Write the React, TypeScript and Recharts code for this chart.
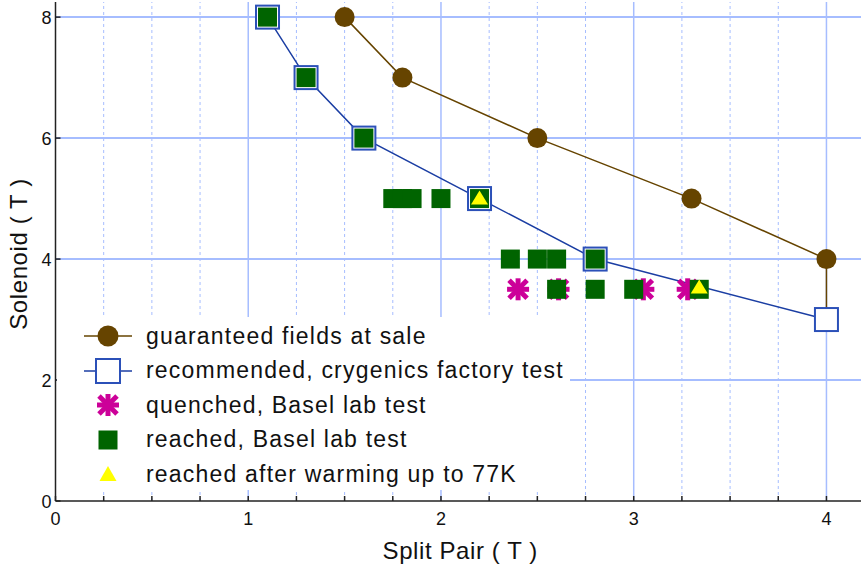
import React from "react";
import { ComposedChart, Scatter, XAxis, YAxis, ReferenceLine, Label } from "recharts";

// series values
const guaranteedX = [1.5, 1.8, 2.5, 3.3, 4.0, 4.0];
const guaranteedY = [8, 7, 6, 5, 4, 3];
const recommendedX = [1.1, 1.3, 1.6, 2.2, 2.8, 4.0];
const recommendedY = [8, 7, 6, 5, 4, 3];
const quenchedX = [2.4, 2.61, 3.05, 3.28];
const quenchedY = [3.5, 3.5, 3.5, 3.5];
const reachedX = [1.1, 1.3, 1.6, 1.75, 1.8, 1.85, 2.0, 2.2, 2.36, 2.5, 2.6, 2.8, 2.6, 2.8, 3.0, 3.34];
const reachedY = [8, 7, 6, 5, 5, 5, 5, 5, 4, 4, 4, 4, 3.5, 3.5, 3.5, 3.5];
const warmedX = [2.2, 3.34];
const warmedY = [5, 3.53];

const seriesNames = [
  "guaranteed fields at sale",
  "recommended, crygenics factory test",
  "quenched, Basel lab test",
  "reached, Basel lab test",
  "reached after warming up to 77K",
];

const xTicks = [0, 0.25, 0.5, 0.75, 1, 1.25, 1.5, 1.75, 2, 2.25, 2.5, 2.75, 3, 3.25, 3.5, 3.75, 4];
const yTicks = [0, 2, 4, 6, 8];

const toPoints = (xs: number[], ys: number[]) => xs.map((x, i) => ({ x, y: ys[i] }));

const BROWN = "#664400";
const BLUE_LINE = "#1b3ea3";
const BLUE_BOX = "#2b50b8";
const MAGENTA = "#cc0099";
const GREEN = "#006400";
const GRID = "#a6bdff";
const FONT = "'Liberation Sans', Arial, Helvetica, sans-serif";

const Dot = (p: any) => <circle cx={p.cx} cy={p.cy} r={10} fill={BROWN} />;
const Box = (p: any) => (
  <rect x={p.cx - 11.5} y={p.cy - 11.5} width={23} height={23} fill="#fff" stroke={BLUE_BOX} strokeWidth={2} />
);
const Star = (p: any) => {
  const { cx, cy } = p;
  return (
    <g stroke={MAGENTA} strokeWidth={5}>
      <line x1={cx - 11} y1={cy} x2={cx + 11} y2={cy} />
      <line x1={cx} y1={cy - 11} x2={cx} y2={cy + 11} />
      <line x1={cx - 9} y1={cy - 9} x2={cx + 9} y2={cy + 9} />
      <line x1={cx - 9} y1={cy + 9} x2={cx + 9} y2={cy - 9} />
    </g>
  );
};
const Block = (p: any) => <rect x={p.cx - 9.5} y={p.cy - 9.5} width={19} height={19} fill={GREEN} />;
const Tri = (p: any) => (
  <polygon
    points={`${p.cx},${p.cy - 8} ${p.cx - 8.5},${p.cy + 6} ${p.cx + 8.5},${p.cy + 6}`}
    fill="#ffff00"
  />
);

const BottomTick = (p: any) => {
  const v = p.payload.value;
  const isInt = Math.abs(v - Math.round(v)) < 1e-6;
  return (
    <g>
      <line x1={p.x} y1={p.y} x2={p.x} y2={p.y - 5} stroke="#222" strokeWidth={1.5} />
      {isInt && (
        <text x={p.x} y={p.y + 24} textAnchor="middle" fontSize={18} fontFamily={FONT} fill="#111">
          {v}
        </text>
      )}
    </g>
  );
};
const TopTick = (p: any) => <line x1={p.x} y1={p.y} x2={p.x} y2={p.y + 5} stroke="#222" strokeWidth={1.5} />;
const LeftTick = (p: any) => (
  <g>
    <line x1={p.x} y1={p.y} x2={p.x + 5} y2={p.y} stroke="#222" strokeWidth={1.5} />
    <text x={p.x - 4} y={p.y + 6.5} textAnchor="end" fontSize={18} fontFamily={FONT} fill="#111">
      {p.payload.value}
    </text>
  </g>
);
const RightTick = (p: any) => <line x1={p.x} y1={p.y} x2={p.x - 5} y2={p.y} stroke="#222" strokeWidth={1.5} />;

const legendIcons = [
  <svg width={50} height={24}>
    <line x1={0} y1={12} x2={48} y2={12} stroke={BROWN} strokeWidth={1.5} />
    <circle cx={24} cy={12} r={10.5} fill={BROWN} />
  </svg>,
  <svg width={50} height={28}>
    <line x1={0} y1={14} x2={48} y2={14} stroke={BLUE_LINE} strokeWidth={1.5} />
    <rect x={12} y={2} width={24} height={24} fill="#fff" stroke={BLUE_BOX} strokeWidth={2} />
  </svg>,
  <svg width={50} height={26}>
    <Star cx={24} cy={13} />
  </svg>,
  <svg width={50} height={24}>
    <Block cx={24} cy={12} />
  </svg>,
  <svg width={50} height={24}>
    <polygon points="24,4 15.5,19 32.5,19" fill="#ffff00" />
  </svg>,
];

const LegendBox = () => (
  <div
    style={{
      position: "absolute",
      left: 57,
      top: 317,
      width: 513,
      height: 173,
      background: "#fff",
      paddingTop: 2,
      boxSizing: "border-box",
    }}
  >
    {seriesNames.map((name, i) => (
      <div key={name} style={{ display: "flex", alignItems: "center", height: 34.5 }}>
        <div style={{ width: 50, marginLeft: 27, display: "flex", justifyContent: "center" }}>{legendIcons[i]}</div>
        <span
          style={{
            marginLeft: 12,
            fontFamily: FONT,
            fontSize: 23,
            letterSpacing: 1.2,
            color: "#111",
            whiteSpace: "nowrap",
          }}
        >
          {name}
        </span>
      </div>
    ))}
  </div>
);

export default function App() {
  return (
    <div style={{ position: "absolute", left: 0, top: 0, width: 861, height: 565, overflow: "hidden", background: "#fff" }}>
      <ComposedChart width={870} height={565} margin={{ top: 2, right: 5, bottom: 0, left: 0 }}>
        <XAxis
          xAxisId="b"
          type="number"
          dataKey="x"
          domain={[0, 4.2]}
          ticks={xTicks}
          interval={0}
          allowDataOverflow
          height={64}
          tickSize={0}
          tickMargin={0}
          tickLine={false}
          axisLine={{ stroke: "#222", strokeWidth: 1.5 }}
          tick={BottomTick}
        >
          <Label
            content={(lp: any) => (
              <text
                x={lp.viewBox.x + lp.viewBox.width / 2}
                y={lp.viewBox.y + 58}
                textAnchor="middle"
                fontSize={24}
                letterSpacing={0.6}
                fontFamily={FONT}
                fill="#111"
              >
                Split Pair ( T )
              </text>
            )}
          />
        </XAxis>
        <XAxis
          xAxisId="t"
          orientation="top"
          type="number"
          dataKey="x"
          domain={[0, 4.2]}
          ticks={xTicks}
          interval={0}
          allowDataOverflow
          height={0}
          tickSize={0}
          tickMargin={0}
          tickLine={false}
          axisLine={{ stroke: "#222", strokeWidth: 1.5 }}
          tick={TopTick}
        />
        <YAxis
          yAxisId="l"
          type="number"
          dataKey="y"
          domain={[0, 8.25]}
          ticks={yTicks}
          interval={0}
          allowDataOverflow
          width={55.5}
          tickSize={0}
          tickMargin={0}
          tickLine={false}
          axisLine={{ stroke: "#222", strokeWidth: 1.5 }}
          tick={LeftTick}
        >
          <Label
            content={() => (
              <text
                x={27}
                y={254}
                transform="rotate(-90, 27, 254)"
                textAnchor="middle"
                fontSize={24}
                letterSpacing={0.6}
                fontFamily={FONT}
                fill="#111"
              >
                Solenoid ( T )
              </text>
            )}
          />
        </YAxis>
        <YAxis
          yAxisId="r"
          orientation="right"
          type="number"
          dataKey="y"
          domain={[0, 8.25]}
          ticks={yTicks}
          interval={0}
          allowDataOverflow
          width={0}
          tickSize={0}
          tickMargin={0}
          tickLine={false}
          axisLine={{ stroke: "#222", strokeWidth: 1.5 }}
          tick={RightTick}
        />

        {xTicks
          .filter((v) => v > 0)
          .map((v) => {
            const isInt = Math.abs(v - Math.round(v)) < 1e-6;
            return (
              <ReferenceLine
                key={"gx" + v}
                xAxisId="b"
                yAxisId="l"
                x={v}
                stroke={GRID}
                strokeWidth={isInt ? 1.5 : 1}
                strokeDasharray={isInt ? undefined : "3 3"}
              />
            );
          })}
        {yTicks
          .filter((v) => v > 0)
          .map((v) => (
            <ReferenceLine key={"gy" + v} xAxisId="b" yAxisId="l" y={v} stroke={GRID} strokeWidth={2} />
          ))}

        <Scatter
          xAxisId="b"
          yAxisId="l"
          name={seriesNames[0]}
          data={toPoints(guaranteedX, guaranteedY)}
          line={{ stroke: BROWN, strokeWidth: 1.5 }}
          shape={Dot}
          isAnimationActive={false}
        />
        <Scatter
          xAxisId="b"
          yAxisId="l"
          name={seriesNames[1]}
          data={toPoints(recommendedX, recommendedY)}
          line={{ stroke: BLUE_LINE, strokeWidth: 1.5 }}
          shape={Box}
          isAnimationActive={false}
        />
        <Scatter
          xAxisId="b"
          yAxisId="l"
          name={seriesNames[2]}
          data={toPoints(quenchedX, quenchedY)}
          shape={Star}
          isAnimationActive={false}
        />
        <Scatter
          xAxisId="b"
          yAxisId="l"
          name={seriesNames[3]}
          data={toPoints(reachedX, reachedY)}
          shape={Block}
          isAnimationActive={false}
        />
        <Scatter
          xAxisId="b"
          yAxisId="l"
          name={seriesNames[4]}
          data={toPoints(warmedX, warmedY)}
          shape={Tri}
          isAnimationActive={false}
        />
      </ComposedChart>
      <LegendBox />
    </div>
  );
}
